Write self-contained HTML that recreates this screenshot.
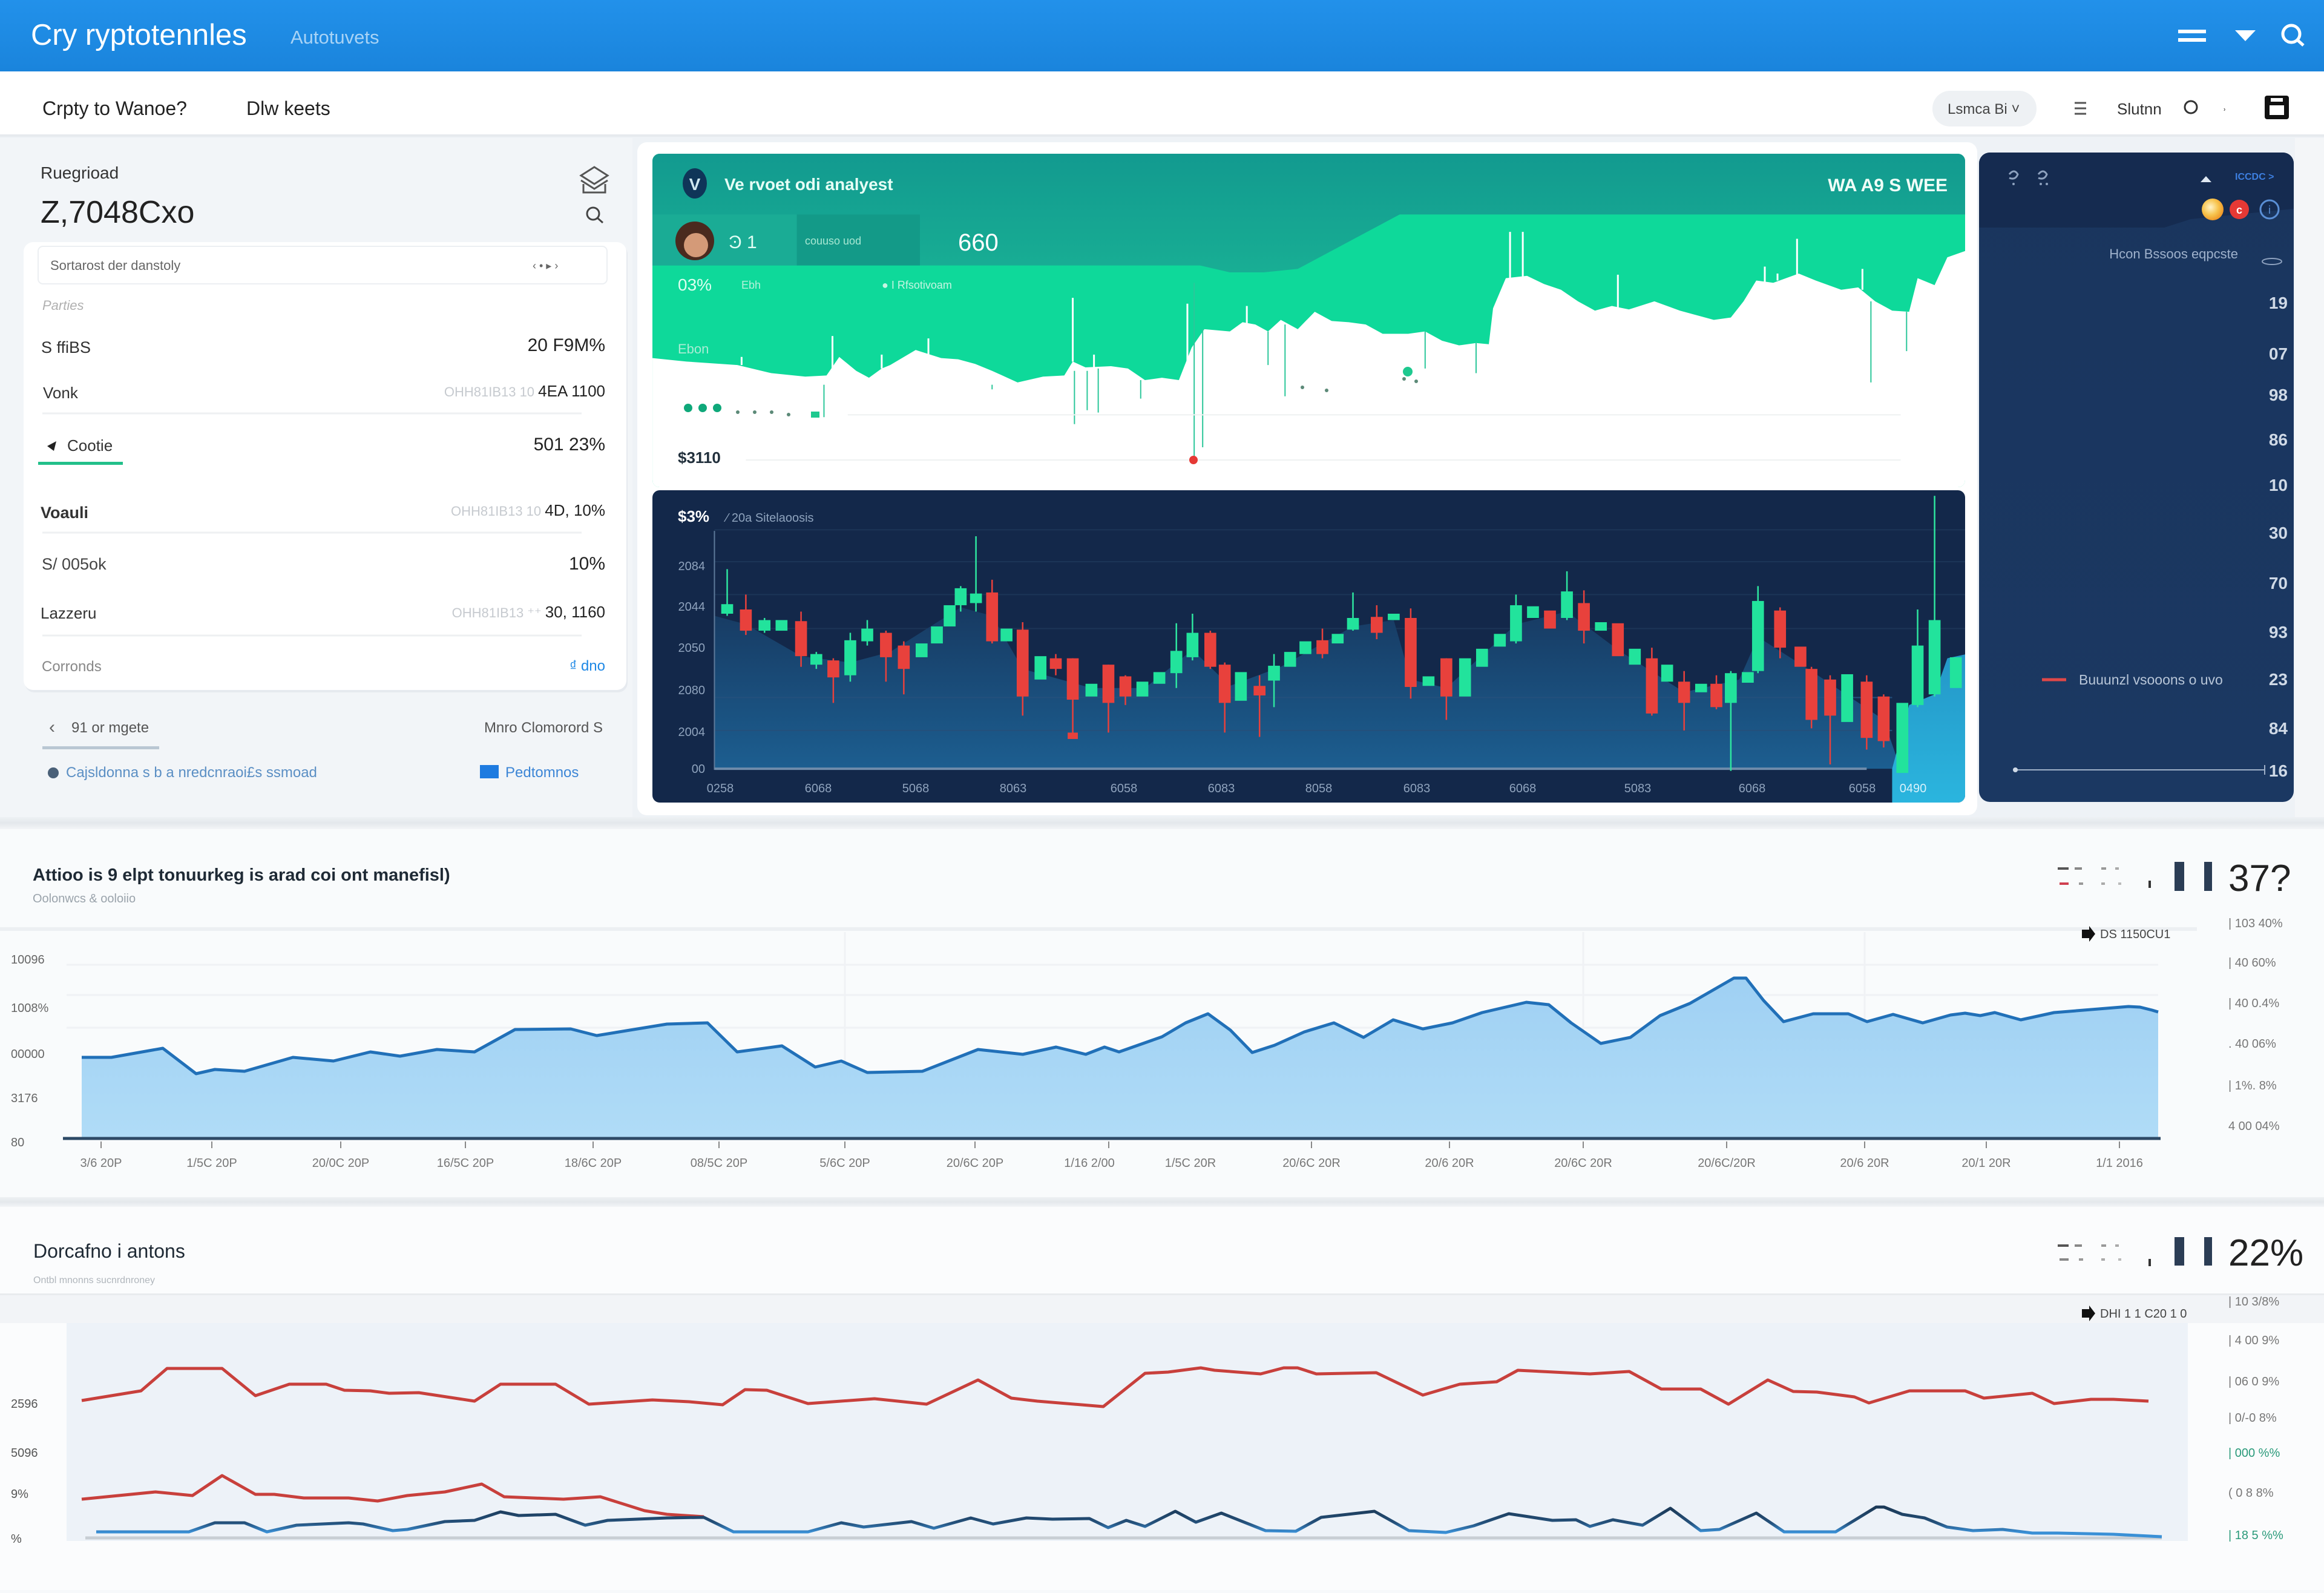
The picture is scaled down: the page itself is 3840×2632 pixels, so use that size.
<!DOCTYPE html>
<html><head><meta charset="utf-8"><style>
html,body{margin:0;padding:0;}
body{width:3840px;height:2627px;overflow:hidden;background:#f7f9fb;}
svg text{font-family:"Liberation Sans",sans-serif;}
</style></head><body>
<svg width="3840" height="2627" viewBox="0 0 3840 2627" xmlns="http://www.w3.org/2000/svg">
<defs>
 <linearGradient id="hdr" x1="0" y1="0" x2="0" y2="1"><stop offset="0" stop-color="#2291ea"/><stop offset="1" stop-color="#1a84dc"/></linearGradient>
 <linearGradient id="band" x1="0" y1="0" x2="0" y2="1"><stop offset="0" stop-color="#12998f"/><stop offset="1" stop-color="#18ae94"/></linearGradient>
 <linearGradient id="cArea" x1="0" y1="0" x2="0" y2="1"><stop offset="0" stop-color="#173a62"/><stop offset="1" stop-color="#1c5e90"/></linearGradient>
 <linearGradient id="cyan" x1="0" y1="0" x2="0" y2="1"><stop offset="0" stop-color="#2497c8"/><stop offset="1" stop-color="#2bb6df"/></linearGradient>
 <linearGradient id="rp" x1="0" y1="0" x2="0" y2="1"><stop offset="0" stop-color="#1a355e"/><stop offset="1" stop-color="#1b3862"/></linearGradient>
 <linearGradient id="area2" x1="0" y1="0" x2="0" y2="1"><stop offset="0" stop-color="#9fd0f3"/><stop offset="1" stop-color="#b0dcf7"/></linearGradient>
 <linearGradient id="sep" x1="0" y1="0" x2="0" y2="1"><stop offset="0" stop-color="#eef1f4"/><stop offset="0.5" stop-color="#e4e8ec"/><stop offset="1" stop-color="#f3f5f7"/></linearGradient>
 <linearGradient id="blueG" gradientUnits="userSpaceOnUse" x1="0" y1="2492" x2="0" y2="2532"><stop offset="0" stop-color="#1c3a58"/><stop offset="0.6" stop-color="#24507a"/><stop offset="1" stop-color="#3a90d6"/></linearGradient>
 <radialGradient id="coin" cx="0.4" cy="0.4" r="0.6"><stop offset="0" stop-color="#fff3c8"/><stop offset="0.6" stop-color="#f7c44e"/><stop offset="1" stop-color="#f09a2a"/></radialGradient>
 <clipPath id="gp"><rect x="1078" y="254" width="2169" height="551" rx="12"/></clipPath>
 <clipPath id="cp"><rect x="1078" y="810" width="2169" height="516" rx="12"/></clipPath>
 <clipPath id="rpc"><rect x="3270" y="252" width="520" height="1073" rx="18"/></clipPath>
</defs>

<!-- backgrounds -->
<rect x="0" y="0" width="3840" height="2627" fill="#f8fafb"/>
<rect x="0" y="225" width="3840" height="1130" fill="#eef2f6"/>
<rect x="0" y="228" width="1045" height="1130" fill="#f2f5f8"/>
<rect x="3792" y="228" width="48" height="1130" fill="#f4f6f8"/>
<rect x="0" y="0" width="3840" height="118" fill="url(#hdr)"/>
<rect x="0" y="118" width="3840" height="107" fill="#ffffff"/>
<rect x="0" y="222" width="3840" height="4" fill="#e6eaee"/>

<!-- header -->
<text x="51" y="74" font-size="49" fill="#ffffff">Cry ryptotennles</text>
<text x="480" y="72" font-size="31" fill="#a8d3f6">Autotuvets</text>
<line x1="3599" y1="52" x2="3645" y2="52" stroke="#fff" stroke-width="6"/>
<line x1="3599" y1="66" x2="3645" y2="66" stroke="#fff" stroke-width="6"/>
<polygon points="3693,50 3727,50 3710,68" fill="#fff"/>
<circle cx="3786" cy="56" r="14" fill="none" stroke="#fff" stroke-width="5"/>
<line x1="3796" y1="66" x2="3806" y2="75" stroke="#fff" stroke-width="5"/>

<!-- subnav -->
<text x="70" y="190" font-size="32" fill="#222">Crpty to Wanoe?</text>
<text x="407" y="190" font-size="32" fill="#222">Dlw keets</text>
<rect x="3193" y="150" width="172" height="59" rx="29" fill="#eef1f4"/>
<text x="3218" y="188" font-size="24" fill="#444">Lsmca Bi ˅</text>
<line x1="3428" y1="170" x2="3447" y2="170" stroke="#555" stroke-width="3"/>
<line x1="3428" y1="179" x2="3447" y2="179" stroke="#555" stroke-width="3"/>
<line x1="3428" y1="188" x2="3447" y2="188" stroke="#555" stroke-width="3"/>
<text x="3498" y="189" font-size="26" fill="#333">Slutnn</text>
<circle cx="3620" cy="177" r="10" fill="none" stroke="#333" stroke-width="3"/>
<text x="3672" y="184" font-size="22" fill="#333">˒</text>
<rect x="3742" y="158" width="40" height="39" rx="4" fill="#111"/>
<rect x="3750" y="174" width="24" height="16" fill="#fff"/>
<rect x="3752" y="162" width="20" height="6" fill="#fff"/>

<!-- left panel -->
<text x="67" y="295" font-size="28" fill="#333">Ruegrioad</text>
<text x="67" y="368" font-size="52" fill="#222">Z,7048Cxo</text>
<path d="M960,290 L982,276 L1004,290 L982,304 Z" fill="none" stroke="#555" stroke-width="3"/>
<path d="M960,298 L982,312 L1004,298 M964,304 V318 H1000 V304" fill="none" stroke="#555" stroke-width="3"/>
<circle cx="980" cy="353" r="10" fill="none" stroke="#444" stroke-width="3"/>
<line x1="987" y1="360" x2="996" y2="368" stroke="#444" stroke-width="3"/>

<rect x="41" y="404" width="996" height="740" rx="16" fill="#e6eaef"/>
<rect x="39" y="400" width="996" height="740" rx="16" fill="#ffffff"/>
<rect x="63" y="407" width="940" height="62" rx="8" fill="#fff" stroke="#eceff2" stroke-width="2"/>
<text x="83" y="446" font-size="22" fill="#666">Sortarost der danstoly</text>
<text x="880" y="445" font-size="18" fill="#666">‹    •    ▸    ›</text>
<text x="70" y="512" font-size="22" font-style="italic" fill="#b0b0b0">Parties</text>
<text x="68" y="583" font-size="27" fill="#333">S ffiBS</text>
<text x="1000" y="580" font-size="30" text-anchor="end" fill="#222">20 F9M%</text>
<text x="71" y="658" font-size="26" fill="#333">Vonk</text>
<text x="1000" y="655" text-anchor="end" font-size="26"><tspan fill="#c6cacf" font-size="22">OHH81IB13 10 </tspan><tspan fill="#222">4EA 1100</tspan></text>
<line x1="70" y1="683" x2="961" y2="683" stroke="#eef0f2" stroke-width="3"/>
<polygon points="78,737 93,729 89,745" fill="#222"/>
<text x="111" y="745" font-size="26" fill="#333">Cootie</text>
<rect x="63" y="763" width="140" height="5" fill="#22c08a"/>
<text x="1000" y="744" font-size="30" text-anchor="end" fill="#222">501 23%</text>
<text x="67" y="856" font-size="27" font-weight="bold" fill="#333">Voauli</text>
<text x="1000" y="852" text-anchor="end" font-size="26"><tspan fill="#c6cacf" font-size="22">OHH81IB13 10 </tspan><tspan fill="#222">4D, 10%</tspan></text>
<line x1="70" y1="880" x2="961" y2="880" stroke="#eef0f2" stroke-width="3"/>
<text x="69" y="941" font-size="27" fill="#444">S/ 005ok</text>
<text x="1000" y="941" font-size="30" text-anchor="end" fill="#222">10%</text>
<text x="67" y="1022" font-size="26" fill="#333">Lazzeru</text>
<text x="1000" y="1020" text-anchor="end" font-size="26"><tspan fill="#c6cacf" font-size="22">OHH81IB13 ⁺⁺ </tspan><tspan fill="#222">30, 1160</tspan></text>
<line x1="70" y1="1050" x2="961" y2="1050" stroke="#eef0f2" stroke-width="3"/>
<text x="69" y="1109" font-size="24" fill="#888">Corronds</text>
<text x="1000" y="1108" font-size="24" text-anchor="end" fill="#1e88e5">₫ dno</text>

<text x="81" y="1211" font-size="30" fill="#666">‹</text>
<text x="118" y="1210" font-size="24" fill="#555">91 or mgete</text>
<rect x="70" y="1233" width="193" height="5" fill="#b9c7d3"/>
<text x="996" y="1210" font-size="24" text-anchor="end" fill="#555">Mnro Clomorord S</text>
<circle cx="88" cy="1277" r="9" fill="#4a6078"/>
<text x="109" y="1284" font-size="24" fill="#5b8fc4">Cajsldonna s b a nredcnraoi£s ssmoad</text>
<rect x="793" y="1264" width="31" height="22" fill="#1e7be0"/>
<text x="835" y="1284" font-size="24" fill="#3d86d6">Pedtomnos</text>

<!-- middle container -->
<rect x="1053" y="235" width="2214" height="1112" rx="16" fill="#ffffff"/>

<!-- green panel -->
<g clip-path="url(#gp)">
 <rect x="1078" y="254" width="2169" height="551" fill="#0ed99a"/>
 <g transform="translate(1050,230) scale(1.403,0.3827)">
  <path d="M20,40 H1568 V325 H900 L780,560 L740,575 H700 L665,545 H20 Z" fill="url(#band)"/>
  <rect x="20" y="325" width="170" height="220" fill="#1aac95"/>
  <rect x="190" y="325" width="145" height="220" fill="#139a88"/>
  <path d="M20,945 L60,960 L120,975 L160,1010 L200,1025 L225,1020 L240,940 L260,1000 L275,1030 L290,990 L300,975 L330,910 L360,945 L380,950 L400,970 L420,1000 L450,1050 L480,1025 L505,1020 L515,960 L530,985 L560,980 L580,990 L600,1040 L620,1030 L640,1040 L655,900 L670,820 L700,830 L715,790 L730,800 L745,830 L760,780 L780,820 L800,745 L820,785 L840,790 L860,800 L880,840 L910,840 L930,830 L950,870 L970,890 L990,880 L1005,885 L1010,730 L1025,600 L1050,590 L1070,625 L1090,650 L1110,700 L1130,740 L1150,720 L1170,735 L1200,700 L1230,740 L1250,760 L1270,780 L1290,770 L1305,700 L1320,610 L1340,620 L1370,580 L1390,610 L1420,650 L1440,640 L1460,700 L1480,740 L1500,745 L1510,600 L1530,630 L1545,510 L1568,480 L1568,1600 L20,1600 Z" fill="#ffffff"/>
  <g stroke="#ffffff" stroke-width="3" fill="none">
   <line x1="125" y1="975" x2="125" y2="940" vector-effect="non-scaling-stroke"/>
   <line x1="232" y1="1020" x2="232" y2="850" vector-effect="non-scaling-stroke"/>
   <line x1="290" y1="990" x2="290" y2="930" vector-effect="non-scaling-stroke"/>
   <line x1="345" y1="930" x2="345" y2="860" vector-effect="non-scaling-stroke"/>
   <line x1="515" y1="960" x2="515" y2="685" vector-effect="non-scaling-stroke"/>
   <line x1="540" y1="985" x2="540" y2="930" vector-effect="non-scaling-stroke"/>
   <line x1="650" y1="1000" x2="650" y2="710" vector-effect="non-scaling-stroke"/>
   <line x1="720" y1="800" x2="720" y2="720" vector-effect="non-scaling-stroke"/>
   <line x1="1030" y1="600" x2="1030" y2="400" vector-effect="non-scaling-stroke"/>
   <line x1="1045" y1="600" x2="1045" y2="400" vector-effect="non-scaling-stroke"/>
   <line x1="1157" y1="730" x2="1157" y2="585" vector-effect="non-scaling-stroke"/>
   <line x1="1330" y1="620" x2="1330" y2="550" vector-effect="non-scaling-stroke"/>
   <line x1="1345" y1="610" x2="1345" y2="580" vector-effect="non-scaling-stroke"/>
   <line x1="1368" y1="590" x2="1368" y2="430" vector-effect="non-scaling-stroke"/>
   <line x1="1445" y1="650" x2="1445" y2="560" vector-effect="non-scaling-stroke"/>
  </g>
  <g stroke="#2cc79a" stroke-width="2">
   <line x1="222" y1="1060" x2="222" y2="1200" vector-effect="non-scaling-stroke"/>
   <line x1="420" y1="1060" x2="420" y2="1080" vector-effect="non-scaling-stroke"/>
   <line x1="517" y1="1000" x2="517" y2="1230" vector-effect="non-scaling-stroke"/>
   <line x1="532" y1="1000" x2="532" y2="1170" vector-effect="non-scaling-stroke"/>
   <line x1="545" y1="990" x2="545" y2="1180" vector-effect="non-scaling-stroke"/>
   <line x1="595" y1="1040" x2="595" y2="1120" vector-effect="non-scaling-stroke"/>
   <line x1="658" y1="620" x2="658" y2="1385" vector-effect="non-scaling-stroke"/>
   <line x1="668" y1="820" x2="668" y2="1330" vector-effect="non-scaling-stroke"/>
   <line x1="745" y1="830" x2="745" y2="975" vector-effect="non-scaling-stroke"/>
   <line x1="765" y1="800" x2="765" y2="1110" vector-effect="non-scaling-stroke"/>
   <line x1="930" y1="830" x2="930" y2="990" vector-effect="non-scaling-stroke"/>
   <line x1="990" y1="880" x2="990" y2="1010" vector-effect="non-scaling-stroke"/>
   <line x1="1455" y1="700" x2="1455" y2="1050" vector-effect="non-scaling-stroke"/>
   <line x1="1497" y1="745" x2="1497" y2="915" vector-effect="non-scaling-stroke"/>
  </g>
  <g stroke="#eef1f1" stroke-width="2">
   <line x1="250" y1="1190" x2="1490" y2="1190" vector-effect="non-scaling-stroke"/>
   <line x1="130" y1="1385" x2="1490" y2="1385" vector-effect="non-scaling-stroke"/>
  </g>
 </g>
 <circle cx="1137" cy="674" r="7" fill="#0fa87a"/>
 <circle cx="1161" cy="674" r="7" fill="#0fa87a"/>
 <circle cx="1185" cy="674" r="7" fill="#0fa87a"/>
 <circle cx="1219" cy="681" r="3" fill="#5c8a78"/>
 <circle cx="1247" cy="681" r="3" fill="#5c8a78"/>
 <circle cx="1275" cy="681" r="3" fill="#5c8a78"/>
 <circle cx="1303" cy="685" r="3" fill="#5c8a78"/>
 <rect x="1340" y="680" width="14" height="10" fill="#1ec98f"/>
 <circle cx="2152" cy="640" r="3" fill="#5c8a78"/>
 <circle cx="2192" cy="645" r="3" fill="#5c8a78"/>
 <circle cx="2320" cy="626" r="3" fill="#5c8a78"/>
 <circle cx="2340" cy="630" r="3" fill="#5c8a78"/>
 <circle cx="2326" cy="614" r="8" fill="#1ec98f"/>
 <circle cx="1972" cy="760" r="7" fill="#e53935"/>
</g>
<ellipse cx="1148" cy="303" rx="20" ry="25" fill="#0f3558"/>
<text x="1148" y="314" font-size="28" text-anchor="middle" font-weight="bold" fill="#cfe8f0">V</text>
<text x="1197" y="314" font-size="28" font-weight="bold" fill="#e6fff6">Ve rvoet odi analyest</text>
<text x="3218" y="316" font-size="30" font-weight="bold" text-anchor="end" fill="#f0fff8">WA A9 S WEE</text>
<circle cx="1148" cy="398" r="32" fill="#4a2a1e"/>
<circle cx="1150" cy="405" r="20" fill="#d49a78"/>
<text x="1204" y="410" font-size="30" fill="#e0fff4">Ͽ 1</text>
<text x="1330" y="404" font-size="18" fill="#a7e7d3">couuso    uod</text>
<text x="1583" y="414" font-size="40" fill="#ffffff">660</text>
<text x="1120" y="480" font-size="28" fill="#dcfff0">03%</text>
<text x="1225" y="477" font-size="18" fill="#b5f1da">Ebh</text>
<text x="1457" y="477" font-size="18" fill="#c5f5e2">● I  Rfsotivoam</text>
<text x="1120" y="584" font-size="22" fill="#a9ecd4">Ebon</text>
<text x="1120" y="765" font-size="26" font-weight="bold" fill="#22303c">$3110</text>

<!-- candle panel -->
<g clip-path="url(#cp)">
 <rect x="1078" y="810" width="2169" height="516" fill="#13284a"/>
 <g transform="translate(1050,800) scale(1.403,0.3508)">
  <g stroke="#1c3557" stroke-width="2">
   <line x1="93" y1="215" x2="1568" y2="215" vector-effect="non-scaling-stroke"/>
   <line x1="93" y1="365" x2="1568" y2="365" vector-effect="non-scaling-stroke"/>
   <line x1="93" y1="520" x2="1568" y2="520" vector-effect="non-scaling-stroke"/>
   <line x1="93" y1="680" x2="1568" y2="680" vector-effect="non-scaling-stroke"/>
  </g>
  <path d="M93,620 L130,660 L195,810 L253,840 L300,790 L383,580 L420,620 L456,870 L537,960 L600,960 L656,780 L700,950 L760,860 L845,670 L893,640 L913,920 L955,960 L1037,660 L1097,600 L1157,780 L1235,980 L1300,920 L1322,720 L1385,880 L1470,1110 L1490,1340 L93,1340 Z" fill="url(#cArea)"/>
  <g stroke="#24507c" stroke-width="2">
   <line x1="93" y1="1005" x2="1480" y2="1005" vector-effect="non-scaling-stroke"/>
   <line x1="93" y1="1160" x2="1480" y2="1160" vector-effect="non-scaling-stroke"/>
  </g>
  <path d="M1480,1520 L1480,1340 L1500,1040 L1530,990 L1545,820 L1568,800 L1568,1520 Z" fill="url(#cyan)"/>
  <line x1="93" y1="220" x2="93" y2="1345" stroke="#5d7a9a" stroke-width="2" vector-effect="non-scaling-stroke"/>
  <line x1="93" y1="1340" x2="1450" y2="1340" stroke="#6f8cab" stroke-width="4" vector-effect="non-scaling-stroke"/>
  <g stroke="#2ee6a0" stroke-width="2.5">
   <line x1="108" x2="108" y1="400" y2="620" vector-effect="non-scaling-stroke"/>
   <line x1="152" x2="152" y1="630" y2="700" vector-effect="non-scaling-stroke"/>
   <line x1="213" x2="213" y1="790" y2="870" vector-effect="non-scaling-stroke"/>
   <line x1="253" x2="253" y1="700" y2="930" vector-effect="non-scaling-stroke"/>
   <line x1="273" x2="273" y1="640" y2="760" vector-effect="non-scaling-stroke"/>
   <line x1="383" x2="383" y1="480" y2="600" vector-effect="non-scaling-stroke"/>
   <line x1="401" x2="401" y1="245" y2="600" vector-effect="non-scaling-stroke"/>
   <line x1="637" x2="637" y1="655" y2="960" vector-effect="non-scaling-stroke"/>
   <line x1="656" x2="656" y1="610" y2="830" vector-effect="non-scaling-stroke"/>
   <line x1="752" x2="752" y1="800" y2="1050" vector-effect="non-scaling-stroke"/>
   <line x1="845" x2="845" y1="510" y2="690" vector-effect="non-scaling-stroke"/>
   <line x1="1037" x2="1037" y1="520" y2="750" vector-effect="non-scaling-stroke"/>
   <line x1="1097" x2="1097" y1="410" y2="640" vector-effect="non-scaling-stroke"/>
   <line x1="1290" x2="1290" y1="880" y2="1350" vector-effect="non-scaling-stroke"/>
   <line x1="1322" x2="1322" y1="480" y2="890" vector-effect="non-scaling-stroke"/>
   <line x1="1510" x2="1510" y1="590" y2="1050" vector-effect="non-scaling-stroke"/>
   <line x1="1530" x2="1530" y1="55" y2="1000" vector-effect="non-scaling-stroke"/>
  </g>
  <g fill="#22e39c">
   <rect x="101" y="565" width="14" height="45"/>
   <rect x="145" y="640" width="14" height="50"/>
   <rect x="165" y="640" width="14" height="50"/>
   <rect x="206" y="800" width="14" height="50"/>
   <rect x="246" y="735" width="14" height="165"/>
   <rect x="266" y="680" width="14" height="60"/>
   <rect x="330" y="750" width="14" height="65"/>
   <rect x="348" y="670" width="14" height="80"/>
   <rect x="363" y="570" width="14" height="100"/>
   <rect x="376" y="490" width="14" height="80"/>
   <rect x="394" y="515" width="14" height="45"/>
   <rect x="430" y="680" width="14" height="60"/>
   <rect x="470" y="810" width="14" height="110"/>
   <rect x="530" y="940" width="14" height="60"/>
   <rect x="590" y="930" width="14" height="70"/>
   <rect x="610" y="885" width="14" height="55"/>
   <rect x="630" y="785" width="14" height="105"/>
   <rect x="649" y="700" width="14" height="115"/>
   <rect x="706" y="885" width="14" height="135"/>
   <rect x="745" y="855" width="14" height="70"/>
   <rect x="764" y="790" width="14" height="70"/>
   <rect x="782" y="740" width="14" height="60"/>
   <rect x="820" y="705" width="14" height="45"/>
   <rect x="838" y="630" width="14" height="55"/>
   <rect x="886" y="610" width="14" height="30"/>
   <rect x="927" y="905" width="14" height="45"/>
   <rect x="970" y="820" width="14" height="180"/>
   <rect x="990" y="775" width="14" height="85"/>
   <rect x="1011" y="705" width="14" height="60"/>
   <rect x="1030" y="570" width="14" height="170"/>
   <rect x="1050" y="575" width="14" height="55"/>
   <rect x="1090" y="505" width="14" height="125"/>
   <rect x="1130" y="650" width="14" height="40"/>
   <rect x="1170" y="775" width="14" height="75"/>
   <rect x="1208" y="850" width="14" height="80"/>
   <rect x="1248" y="940" width="14" height="40"/>
   <rect x="1283" y="890" width="14" height="140"/>
   <rect x="1303" y="885" width="14" height="50"/>
   <rect x="1315" y="550" width="14" height="330"/>
   <rect x="1420" y="895" width="14" height="225"/>
   <rect x="1485" y="1030" width="14" height="330"/>
   <rect x="1503" y="760" width="14" height="280"/>
   <rect x="1523" y="640" width="14" height="350"/>
   <rect x="1548" y="815" width="14" height="145"/>
  </g>
  <g stroke="#e8413c" stroke-width="2.5">
   <line x1="130" x2="130" y1="520" y2="710" vector-effect="non-scaling-stroke"/>
   <line x1="195" x2="195" y1="600" y2="860" vector-effect="non-scaling-stroke"/>
   <line x1="233" x2="233" y1="820" y2="1030" vector-effect="non-scaling-stroke"/>
   <line x1="295" x2="295" y1="690" y2="930" vector-effect="non-scaling-stroke"/>
   <line x1="316" x2="316" y1="740" y2="990" vector-effect="non-scaling-stroke"/>
   <line x1="420" x2="420" y1="450" y2="750" vector-effect="non-scaling-stroke"/>
   <line x1="456" x2="456" y1="650" y2="1090" vector-effect="non-scaling-stroke"/>
   <line x1="495" x2="495" y1="800" y2="900" vector-effect="non-scaling-stroke"/>
   <line x1="515" x2="515" y1="820" y2="1200" vector-effect="non-scaling-stroke"/>
   <line x1="557" x2="557" y1="850" y2="1170" vector-effect="non-scaling-stroke"/>
   <line x1="577" x2="577" y1="900" y2="1040" vector-effect="non-scaling-stroke"/>
   <line x1="677" x2="677" y1="690" y2="870" vector-effect="non-scaling-stroke"/>
   <line x1="694" x2="694" y1="840" y2="1170" vector-effect="non-scaling-stroke"/>
   <line x1="735" x2="735" y1="900" y2="1190" vector-effect="non-scaling-stroke"/>
   <line x1="809" x2="809" y1="680" y2="820" vector-effect="non-scaling-stroke"/>
   <line x1="873" x2="873" y1="570" y2="730" vector-effect="non-scaling-stroke"/>
   <line x1="913" x2="913" y1="585" y2="1010" vector-effect="non-scaling-stroke"/>
   <line x1="955" x2="955" y1="820" y2="1110" vector-effect="non-scaling-stroke"/>
   <line x1="1117" x2="1117" y1="500" y2="750" vector-effect="non-scaling-stroke"/>
   <line x1="1197" x2="1197" y1="770" y2="1090" vector-effect="non-scaling-stroke"/>
   <line x1="1235" x2="1235" y1="880" y2="1160" vector-effect="non-scaling-stroke"/>
   <line x1="1273" x2="1273" y1="900" y2="1060" vector-effect="non-scaling-stroke"/>
   <line x1="1348" x2="1348" y1="580" y2="820" vector-effect="non-scaling-stroke"/>
   <line x1="1385" x2="1385" y1="860" y2="1150" vector-effect="non-scaling-stroke"/>
   <line x1="1407" x2="1407" y1="900" y2="1320" vector-effect="non-scaling-stroke"/>
   <line x1="1450" x2="1450" y1="900" y2="1250" vector-effect="non-scaling-stroke"/>
   <line x1="1470" x2="1470" y1="990" y2="1240" vector-effect="non-scaling-stroke"/>
  </g>
  <g fill="#e8413c">
   <rect x="123" y="590" width="14" height="100"/>
   <rect x="188" y="645" width="14" height="165"/>
   <rect x="226" y="830" width="14" height="80"/>
   <rect x="288" y="700" width="14" height="115"/>
   <rect x="309" y="760" width="14" height="110"/>
   <rect x="413" y="510" width="14" height="230"/>
   <rect x="449" y="685" width="14" height="315"/>
   <rect x="488" y="820" width="14" height="50"/>
   <rect x="508" y="820" width="14" height="195"/>
   <rect x="550" y="850" width="14" height="180"/>
   <rect x="570" y="905" width="14" height="95"/>
   <rect x="670" y="700" width="14" height="160"/>
   <rect x="687" y="850" width="14" height="180"/>
   <rect x="728" y="950" width="14" height="45"/>
   <rect x="802" y="735" width="14" height="65"/>
   <rect x="866" y="625" width="14" height="75"/>
   <rect x="906" y="630" width="14" height="325"/>
   <rect x="948" y="820" width="14" height="180"/>
   <rect x="1070" y="595" width="14" height="85"/>
   <rect x="1110" y="560" width="14" height="130"/>
   <rect x="1150" y="655" width="14" height="155"/>
   <rect x="1190" y="820" width="14" height="260"/>
   <rect x="1228" y="930" width="14" height="100"/>
   <rect x="1266" y="940" width="14" height="110"/>
   <rect x="1341" y="595" width="14" height="175"/>
   <rect x="1365" y="765" width="14" height="95"/>
   <rect x="1378" y="870" width="14" height="240"/>
   <rect x="1400" y="920" width="14" height="170"/>
   <rect x="1443" y="930" width="14" height="265"/>
   <rect x="1463" y="1000" width="14" height="210"/>
   <rect x="509" y="1170" width="12" height="30"/>
  </g>
 </g>
</g>
<text x="1120" y="862" font-size="26" font-weight="bold" fill="#ffffff">$3%</text>
<text x="1200" y="862" font-size="20" fill="#8ea3bd">⁄ 20a Sitelaoosis</text>
<g font-size="20" fill="#8fa3bd" text-anchor="end">
 <text x="1165" y="942">2084</text>
 <text x="1165" y="1009">2044</text>
 <text x="1165" y="1077">2050</text>
 <text x="1165" y="1147">2080</text>
 <text x="1165" y="1216">2004</text>
 <text x="1165" y="1277">00</text>
</g>
<g font-size="20" fill="#8fa3bd" text-anchor="middle">
 <text x="1190" y="1309">0258</text>
 <text x="1352" y="1309">6068</text>
 <text x="1513" y="1309">5068</text>
 <text x="1674" y="1309">8063</text>
 <text x="1857" y="1309">6058</text>
 <text x="2018" y="1309">6083</text>
 <text x="2179" y="1309">8058</text>
 <text x="2341" y="1309">6083</text>
 <text x="2516" y="1309">6068</text>
 <text x="2706" y="1309">5083</text>
 <text x="2895" y="1309">6068</text>
 <text x="3077" y="1309">6058</text>
 <text x="3161" y="1309" fill="#d8f2fb">0490</text>
</g>

<!-- right dark panel -->
<g clip-path="url(#rpc)">
 <rect x="3270" y="252" width="520" height="1073" fill="url(#rp)"/>
 <path d="M3270,252 H3790 V345 L3620,362 L3576,376 H3270 Z" fill="#152b50"/>
</g>
<path d="M3320,288 q8,-10 14,0 q-4,10 -14,6" fill="none" stroke="#8ea2bf" stroke-width="3"/>
<circle cx="3327" cy="304" r="2" fill="#8ea2bf"/>
<path d="M3368,288 q8,-10 14,0 q-4,10 -14,6" fill="none" stroke="#8ea2bf" stroke-width="3"/>
<circle cx="3372" cy="304" r="2" fill="#8ea2bf"/><circle cx="3382" cy="304" r="2" fill="#8ea2bf"/>
<polygon points="3636,301 3654,301 3645,291" fill="#dfe8f2"/>
<text x="3693" y="297" font-size="16" font-weight="bold" fill="#3d7fe0">ICCDC &gt;</text>
<circle cx="3656" cy="346" r="18" fill="url(#coin)"/>
<circle cx="3700" cy="346" r="16" fill="#e53935"/>
<text x="3700" y="353" font-size="18" text-anchor="middle" font-weight="bold" fill="#fff">c</text>
<circle cx="3750" cy="346" r="15" fill="none" stroke="#5a8fd6" stroke-width="3"/>
<text x="3750" y="353" font-size="18" text-anchor="middle" fill="#5a8fd6">i</text>
<text x="3698" y="427" font-size="22" text-anchor="end" fill="#9fb2cc">Hcon Bssoos eqpcste</text>
<ellipse cx="3754" cy="432" rx="16" ry="5" fill="none" stroke="#8ea2bf" stroke-width="2"/>
<g font-size="28" font-weight="bold" fill="#cfd9e6" text-anchor="end">
 <text x="3780" y="510">19</text>
 <text x="3780" y="594">07</text>
 <text x="3780" y="662">98</text>
 <text x="3780" y="736">86</text>
 <text x="3780" y="811">10</text>
 <text x="3780" y="890">30</text>
 <text x="3780" y="973">70</text>
 <text x="3780" y="1054">93</text>
 <text x="3780" y="1132">23</text>
 <text x="3780" y="1213">84</text>
 <text x="3780" y="1283">16</text>
</g>
<line x1="3374" y1="1123" x2="3414" y2="1123" stroke="#e04848" stroke-width="5"/>
<text x="3435" y="1131" font-size="23" fill="#b8c6d8">Buuunzl vsooons o uvo</text>
<line x1="3327" y1="1272" x2="3742" y2="1272" stroke="#9fb0c8" stroke-width="2"/>
<circle cx="3330" cy="1272" r="4" fill="#cfd9e6"/>
<line x1="3742" y1="1264" x2="3742" y2="1280" stroke="#9fb0c8" stroke-width="2"/>

<!-- separators -->
<rect x="0" y="1350" width="3840" height="20" fill="url(#sep)"/>
<rect x="0" y="1370" width="3840" height="608" fill="#f9fbfc"/>
<rect x="0" y="1978" width="3840" height="16" fill="url(#sep)"/>
<rect x="0" y="1994" width="3840" height="633" fill="#fbfcfd"/>

<!-- section 2 -->
<text x="54" y="1455" font-size="29" font-weight="bold" fill="#1f2a35">Attioo is 9 elpt tonuurkeg is arad coi ont manefisl)</text>
<text x="54" y="1491" font-size="20" fill="#9aa3ab">Oolonwcs &amp; ooloiio</text>
<rect x="0" y="1532" width="3630" height="6" fill="#eceff2"/>
<g stroke="#f0f2f5" stroke-width="3">
 <line x1="110" y1="1594" x2="3566" y2="1594"/>
 <line x1="110" y1="1644" x2="3566" y2="1644"/>
 <line x1="110" y1="1698" x2="3566" y2="1698"/>
 <line x1="1396" y1="1540" x2="1396" y2="1880"/>
 <line x1="2616" y1="1540" x2="2616" y2="1880"/>
 <line x1="3081" y1="1540" x2="3081" y2="1880"/>
</g>
<path d="M135,1881 L135,1747 L184,1747 L269,1732 L324,1774 L355,1767 L404,1770 L484,1747 L551,1753 L612,1738 L661,1745 L722,1734 L784,1738 L851,1701 L943,1700 L986,1711 L1102,1692 L1169,1690 L1218,1738 L1292,1728 L1347,1763 L1390,1753 L1433,1772 L1524,1770 L1616,1734 L1690,1742 L1745,1730 L1794,1742 L1825,1730 L1849,1738 L1920,1713 L1959,1690 L1996,1675 L2033,1702 L2069,1739 L2106,1727 L2155,1705 L2204,1690 L2253,1714 L2302,1685 L2351,1700 L2400,1690 L2449,1673 L2522,1656 L2559,1660 L2596,1690 L2645,1724 L2694,1714 L2743,1678 L2792,1658 L2865,1616 L2885,1616 L2914,1653 L2947,1688 L2996,1675 L3054,1675 L3085,1688 L3128,1676 L3177,1690 L3223,1677 L3247,1674 L3272,1678 L3296,1673 L3339,1685 L3394,1673 L3517,1663 L3536,1664 L3556,1669 L3566,1672 L3566,1881 Z" fill="url(#area2)"/>
<polyline points="135,1747 184,1747 269,1732 324,1774 355,1767 404,1770 484,1747 551,1753 612,1738 661,1745 722,1734 784,1738 851,1701 943,1700 986,1711 1102,1692 1169,1690 1218,1738 1292,1728 1347,1763 1390,1753 1433,1772 1524,1770 1616,1734 1690,1742 1745,1730 1794,1742 1825,1730 1849,1738 1920,1713 1959,1690 1996,1675 2033,1702 2069,1739 2106,1727 2155,1705 2204,1690 2253,1714 2302,1685 2351,1700 2400,1690 2449,1673 2522,1656 2559,1660 2596,1690 2645,1724 2694,1714 2743,1678 2792,1658 2865,1616 2885,1616 2914,1653 2947,1688 2996,1675 3054,1675 3085,1688 3128,1676 3177,1690 3223,1677 3247,1674 3272,1678 3296,1673 3339,1685 3394,1673 3517,1663 3536,1664 3556,1669 3566,1672" fill="none" stroke="#2170b8" stroke-width="5" stroke-linejoin="round"/>
<line x1="104" y1="1881" x2="3570" y2="1881" stroke="#2d4a66" stroke-width="5"/>
<g font-size="20" fill="#666">
 <text x="18" y="1592">10096</text>
 <text x="18" y="1672">1008%</text>
 <text x="18" y="1748">00000</text>
 <text x="18" y="1821">3176</text>
 <text x="18" y="1894">80</text>
</g>
<g stroke="#888" stroke-width="2">
 <line x1="167" y1="1886" x2="167" y2="1897"/><line x1="350" y1="1886" x2="350" y2="1897"/><line x1="563" y1="1886" x2="563" y2="1897"/>
 <line x1="769" y1="1886" x2="769" y2="1897"/><line x1="980" y1="1886" x2="980" y2="1897"/><line x1="1188" y1="1886" x2="1188" y2="1897"/>
 <line x1="1396" y1="1886" x2="1396" y2="1897"/><line x1="1611" y1="1886" x2="1611" y2="1897"/><line x1="1832" y1="1886" x2="1832" y2="1897"/>
 <line x1="2167" y1="1886" x2="2167" y2="1897"/><line x1="2395" y1="1886" x2="2395" y2="1897"/><line x1="2616" y1="1886" x2="2616" y2="1897"/>
 <line x1="2853" y1="1886" x2="2853" y2="1897"/><line x1="3081" y1="1886" x2="3081" y2="1897"/><line x1="3282" y1="1886" x2="3282" y2="1897"/>
 <line x1="3502" y1="1886" x2="3502" y2="1897"/>
</g>
<g font-size="20" fill="#777" text-anchor="middle">
 <text x="167" y="1928">3/6 20P</text><text x="350" y="1928">1/5C 20P</text><text x="563" y="1928">20/0C 20P</text>
 <text x="769" y="1928">16/5C 20P</text><text x="980" y="1928">18/6C 20P</text><text x="1188" y="1928">08/5C 20P</text>
 <text x="1396" y="1928">5/6C 20P</text><text x="1611" y="1928">20/6C 20P</text><text x="1800" y="1928">1/16 2/00</text>
 <text x="1967" y="1928">1/5C 20R</text><text x="2167" y="1928">20/6C 20R</text><text x="2395" y="1928">20/6 20R</text>
 <text x="2616" y="1928">20/6C 20R</text><text x="2853" y="1928">20/6C/20R</text><text x="3081" y="1928">20/6 20R</text>
 <text x="3282" y="1928">20/1 20R</text><text x="3502" y="1928">1/1 2016</text>
</g>
<!-- legend sec2 -->
<g stroke-width="4">
 <line x1="3400" y1="1435" x2="3418" y2="1435" stroke="#555"/><line x1="3428" y1="1435" x2="3440" y2="1435" stroke="#888"/>
 <line x1="3472" y1="1435" x2="3480" y2="1435" stroke="#999"/><line x1="3495" y1="1435" x2="3501" y2="1435" stroke="#aaa"/>
 <line x1="3403" y1="1460" x2="3418" y2="1460" stroke="#d04050"/><line x1="3435" y1="1460" x2="3442" y2="1460" stroke="#999"/>
 <line x1="3472" y1="1460" x2="3478" y2="1460" stroke="#aaa"/><line x1="3500" y1="1460" x2="3505" y2="1460" stroke="#bbb"/>
</g>
<rect x="3550" y="1455" width="4" height="12" fill="#333"/>
<rect x="3593" y="1424" width="16" height="48" fill="#2b3d55"/>
<rect x="3642" y="1424" width="13" height="48" fill="#2b3d55"/>
<text x="3682" y="1472" font-size="62" fill="#222">37?</text>
<polygon points="3440,1536 3452,1536 3452,1530 3462,1543 3452,1556 3452,1550 3440,1550" fill="#111"/>
<text x="3470" y="1550" font-size="20" fill="#444">DS 1150CU1</text>
<g font-size="20" fill="#777">
 <text x="3682" y="1532">| 103 40%</text>
 <text x="3682" y="1597">| 40 60%</text>
 <text x="3682" y="1664">| 40 0.4%</text>
 <text x="3682" y="1731">. 40 06%</text>
 <text x="3682" y="1800">| 1%. 8%</text>
 <text x="3682" y="1867">4 00 04%</text>
</g>

<!-- section 3 -->
<text x="55" y="2078" font-size="32" fill="#1f2a35">Dorcafno i antons</text>
<text x="55" y="2120" font-size="16" fill="#b0b6bc">Ontbl mnonns sucnrdnroney</text>
<rect x="0" y="2139" width="3840" height="47" fill="#f2f4f7"/>
<rect x="0" y="2137" width="3840" height="3" fill="#e8ebee"/>
<rect x="110" y="2186" width="3505" height="360" fill="#edf2f8"/>
<line x1="141" y1="2541" x2="3572" y2="2541" stroke="#c8ced4" stroke-width="5"/>
<polyline points="135,2314 233,2298 276,2261 367,2261 422,2306 478,2287 539,2287 569,2297 612,2298 643,2302 692,2301 784,2315 827,2287 918,2287 973,2320 1078,2313 1139,2316 1194,2321 1231,2296 1267,2297 1335,2319 1445,2311 1531,2320 1616,2280 1671,2310 1714,2315 1823,2324 1892,2269 1930,2267 1984,2260 2007,2264 2083,2270 2121,2260 2144,2260 2175,2270 2274,2268 2351,2305 2412,2287 2473,2283 2508,2264 2627,2270 2692,2266 2745,2295 2810,2295 2856,2320 2921,2280 2963,2299 3002,2300 3064,2308 3088,2318 3155,2298 3247,2298 3278,2310 3358,2302 3394,2319 3455,2312 3492,2312 3550,2315" fill="none" stroke="#c8403c" stroke-width="5" stroke-linejoin="round"/>
<polyline points="135,2477 257,2465 318,2471 367,2438 422,2469 453,2469 502,2475 576,2475 624,2480 673,2471 735,2465 796,2452 833,2473 931,2477 992,2473 1065,2496 1102,2502 1163,2506" fill="none" stroke="#c8403c" stroke-width="5" stroke-linejoin="round"/>
<polyline points="159,2531 312,2531 355,2516 404,2516 441,2531 490,2520 576,2516 600,2518 649,2529 673,2527 735,2514 784,2512 827,2498 857,2504 918,2502 967,2520 1004,2512 1102,2508 1163,2507 1212,2531 1335,2531 1390,2516 1427,2523 1506,2514 1543,2525 1604,2508 1641,2518 1696,2508 1739,2510 1800,2509 1831,2524 1861,2512 1892,2522 1942,2497 1976,2515 2018,2500 2091,2529 2141,2530 2183,2507 2271,2497 2328,2529 2389,2532 2435,2521 2493,2501 2565,2512 2604,2511 2627,2522 2665,2511 2714,2520 2760,2492 2810,2529 2841,2527 2902,2500 2948,2531 3033,2531 3100,2490 3113,2490 3143,2502 3180,2508 3217,2523 3260,2529 3309,2527 3358,2533 3400,2533 3492,2535 3572,2539" fill="none" stroke="url(#blueG)" stroke-width="5" stroke-linejoin="round"/>
<g font-size="20" fill="#555">
 <text x="18" y="2326">2596</text>
 <text x="18" y="2407">5096</text>
 <text x="18" y="2475">9%</text>
 <text x="18" y="2549">%</text>
</g>
<g stroke-width="4">
 <line x1="3400" y1="2058" x2="3418" y2="2058" stroke="#555"/><line x1="3428" y1="2058" x2="3440" y2="2058" stroke="#888"/>
 <line x1="3472" y1="2058" x2="3480" y2="2058" stroke="#999"/><line x1="3495" y1="2058" x2="3501" y2="2058" stroke="#aaa"/>
 <line x1="3403" y1="2081" x2="3418" y2="2081" stroke="#888"/><line x1="3435" y1="2081" x2="3442" y2="2081" stroke="#999"/>
 <line x1="3472" y1="2081" x2="3478" y2="2081" stroke="#aaa"/><line x1="3500" y1="2081" x2="3505" y2="2081" stroke="#bbb"/>
</g>
<rect x="3550" y="2080" width="4" height="12" fill="#333"/>
<rect x="3593" y="2044" width="16" height="47" fill="#2b3d55"/>
<rect x="3642" y="2044" width="13" height="47" fill="#2b3d55"/>
<text x="3682" y="2091" font-size="62" fill="#222">22%</text>
<polygon points="3440,2163 3452,2163 3452,2157 3462,2170 3452,2183 3452,2177 3440,2177" fill="#111"/>
<text x="3470" y="2177" font-size="20" fill="#444">DHI 1 1 C20 1 0</text>
<g font-size="20" fill="#777">
 <text x="3682" y="2157">| 10 3/8%</text>
 <text x="3682" y="2221">| 4 00 9%</text>
 <text x="3682" y="2289">| 06 0 9%</text>
 <text x="3682" y="2349">| 0/-0 8%</text>
 <text x="3682" y="2407" fill="#2a9a7a">| 000 %%</text>
 <text x="3682" y="2473">( 0 8 8%</text>
 <text x="3682" y="2543" fill="#2a9a7a">| 18 5 %%</text>
</g>
</svg>
</body></html>
